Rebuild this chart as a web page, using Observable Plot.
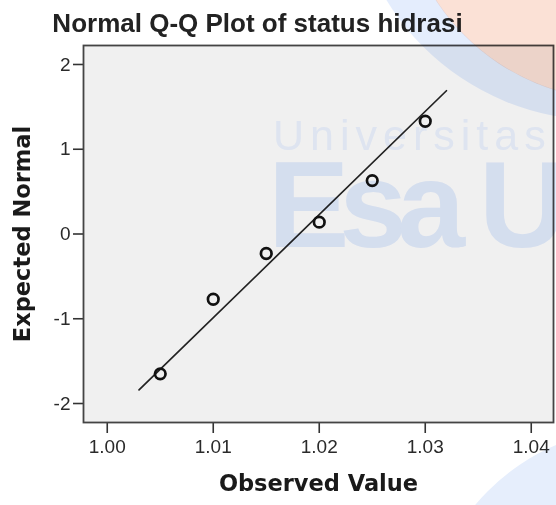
<!DOCTYPE html>
<html>
<head>
<meta charset="utf-8">
<script src="https://cdn.jsdelivr.net/npm/d3@7"></script>
<script src="https://cdn.jsdelivr.net/npm/@observablehq/plot@0.6"></script>
<style>
  html, body { margin: 0; padding: 0; background: #ffffff; }
  #wrap { position: relative; width: 556px; height: 505px; overflow: hidden; }
  #title { position: absolute; top: 10px; left: 0; width: 515px; text-align: center;
    font: bold 26px "Liberation Sans", Arial, sans-serif; line-height: 26px; color: #222; }
  #chart { position: absolute; top: 40px; left: 0; }
  .wm { position: absolute; pointer-events: none; mix-blend-mode: multiply; white-space: nowrap; }
  #wm-orange { left: 400px; top: -340px; width: 440px; height: 440px; border-radius: 50%; background: #fbe1d6; }
  #wm-blue-ring { left: 350px; top: -380px; width: 500px; height: 500px; border-radius: 50%;
    background: radial-gradient(circle 220px at 270px 260px, rgba(255,255,255,0) 219px, #e4edfd 220px); }
  #wm-blue-br { left: 425px; top: 428px; width: 430px; height: 430px; border-radius: 50%; background: #e6eefc; }
  #wm-univ { left: 273px; top: 119px; font: 43px "Liberation Sans", Arial, sans-serif; letter-spacing: 6px; color: #ecf3ff; line-height: 32px; }
  #wm-esa { left: 268px; top: 160px; font: bold 122px "Liberation Sans", Arial, sans-serif; letter-spacing: -10px; color: #e2ecfd; line-height: 90px; }
</style>
</head>
<body>
<div id="wrap">
  <div id="title"></div>
  <div id="chart"></div>
  <div class="wm" id="wm-blue-ring"></div>
  <div class="wm" id="wm-orange"></div>
  <div class="wm" id="wm-blue-br"></div>
  <div class="wm" id="wm-univ">Universitas</div>
  <div class="wm" id="wm-esa">Esa U</div>
</div>
<script>
const titleText = "Normal Q-Q Plot of status hidrasi";
const xLabel = "Observed Value";
const yLabel = "Expected Normal";

const observed = [1.005, 1.010, 1.015, 1.020, 1.025, 1.030];
const expected = [-1.65, -0.77, -0.23, 0.14, 0.63, 1.33];

const lineX = [1.003, 1.032];
const lineY = [-1.84, 1.69];

const xTicks = [1.00, 1.01, 1.02, 1.03, 1.04];
const yTicks = [-2, -1, 0, 1, 2];
const xDomain = [0.99776, 1.0421];
const yDomain = [-2.224, 2.224];

const points = observed.map((v, i) => ({x: v, y: expected[i]}));
const fitLine = lineX.map((v, i) => ({x: v, y: lineY[i]}));

document.getElementById("title").textContent = titleText;

const chart = Plot.plot({
  width: 556,
  height: 465,
  marginTop: 5,
  marginRight: 3,
  marginBottom: 83,
  marginLeft: 83,
  style: {fontFamily: "'Liberation Sans', Arial, sans-serif", fontSize: "19px", color: "#2a2a2a", background: "transparent", overflow: "visible"},
  x: {domain: xDomain, nice: false},
  y: {domain: yDomain, nice: false},
  marks: [
    Plot.frame({fill: "#f0f0f0", stroke: "none"}),
    Plot.axisX({ticks: xTicks, tickFormat: d3.format(".2f"), tickSize: 11, tickPadding: 6, label: null, stroke: "#333", strokeWidth: 1.6, fontSize: 19}),
    Plot.axisY({ticks: yTicks, tickFormat: d => String(d), tickSize: 10, tickPadding: 3, label: null, stroke: "#333", strokeWidth: 1.6, fontSize: 19}),
    Plot.line(fitLine, {x: "x", y: "y", stroke: "#222", strokeWidth: 1.7}),
    Plot.dot(points, {x: "x", y: "y", r: 5.3, stroke: "#111", strokeWidth: 2.7, fill: "none"}),
    Plot.frame({stroke: "#444", strokeWidth: 1.8}),
    Plot.text([xLabel], {text: d => d, frameAnchor: "bottom", textAnchor: "middle", dy: 68, fontSize: 22.5, fontWeight: "bold", fontFamily: "'DejaVu Sans', sans-serif", fill: "#1a1a1a"}),
    Plot.text([yLabel], {text: d => d, frameAnchor: "left", textAnchor: "middle", dx: -61, rotate: -90, fontSize: 22.5, fontWeight: "bold", fontFamily: "'DejaVu Sans', sans-serif", fill: "#1a1a1a"})
  ]
});
document.getElementById("chart").appendChild(chart);
</script>
</body>
</html>
